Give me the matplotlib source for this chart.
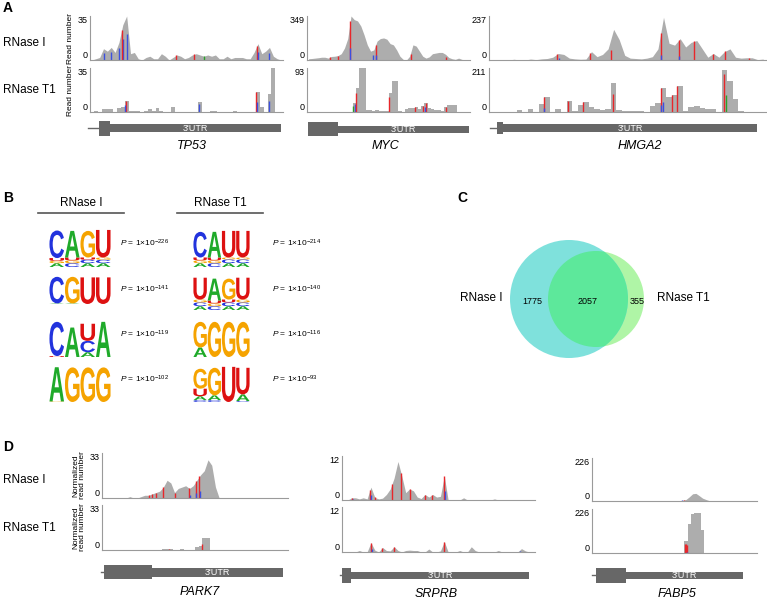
import numpy as np
import matplotlib
matplotlib.use('Agg')
import matplotlib.pyplot as plt
from matplotlib.patches import Circle, Rectangle, PathPatch
from matplotlib.textpath import TextPath
from matplotlib.font_manager import FontProperties
from matplotlib.transforms import Affine2D

plt.rcParams['font.family'] = 'Liberation Sans'
plt.rcParams['mathtext.fontset'] = 'custom'
plt.rcParams['mathtext.rm'] = 'Liberation Sans'
plt.rcParams['mathtext.it'] = 'Liberation Sans:italic'

W, H = 767, 603
GRAY = '#adadad'
SPINE = '#9a9a9a'
GENE = '#676767'
RED, BLUE, GREEN = '#e8262a', '#3b4fe0', '#2ca02c'

# ---------------------------------------------------------------
# coverage values (read number per bin)
# ---------------------------------------------------------------
tp53_i = [0, 1, 2, 9, 7, 10, 6, 14, 28, 35, 5, 6, 1, 0, 2, 3, 1, 1, 5, 3,
          0, 2, 4, 3, 1, 2, 4, 5, 4, 3, 4, 3, 4, 1, 1, 3, 1, 2, 2, 2,
          1, 1, 6, 13, 5, 7, 10, 3, 1, 0]
tp53_t1 = [0, 1, 0, 2, 2, 2, 0, 3, 4, 9, 1, 1, 1, 0, 1, 2, 1, 3, 1, 0,
           0, 4, 0, 0, 0, 0, 0, 0, 8, 0, 0, 1, 1, 0, 0, 0, 0, 1, 0, 0,
           0, 0, 0, 16, 4, 0, 14, 35, 0, 0]
myc_i = [10, 12, 15, 18, 22, 22, 15, 28, 30, 35, 50, 95, 170, 349, 320, 310, 270, 200, 120, 70,
         80, 150, 170, 175, 165, 130, 120, 80, 30, 5, 0, 30, 120, 110, 70, 30, 15, 25, 50, 55,
         60, 60, 45, 20, 10, 5, 15, 5, 0, 0]
myc_t1 = [0, 0, 0, 0, 0, 0, 0, 0, 0, 0, 0, 0, 0, 0, 20, 50, 93, 92, 5, 5,
          3, 4, 3, 2, 2, 40, 65, 65, 2, 0, 6, 8, 9, 10, 7, 12, 20, 8, 6, 4,
          5, 2, 10, 15, 15, 14, 0, 0, 0, 0]
hmga2_i = [0, 0, 0, 0, 4, 0, 0, 5, 2, 6, 8, 15, 35, 30, 10, 6, 4, 5, 45, 18,
           30, 60, 165, 110, 25, 10, 8, 6, 10, 18, 60, 230, 90, 80, 115, 70, 95, 105, 60, 15,
           35, 15, 45, 60, 15, 10, 12, 12, 2, 5]
hmga2_t1 = [0, 0, 0, 0, 0, 8, 0, 15, 2, 40, 70, 0, 12, 2, 55, 5, 35, 50, 25, 12,
            10, 15, 140, 10, 3, 4, 3, 4, 2, 30, 45, 115, 70, 80, 125, 5, 25, 30, 20, 15,
            12, 2, 200, 150, 60, 5, 0, 0, 0, 0]
park7_i = [0, 0, 0, 0, 0, 0, 0, 1, 0, 0, 1, 2, 2, 3, 4, 5, 8, 13, 11, 4,
           7, 8, 9, 7, 9, 13, 17, 20, 28, 24, 8, 0, 0, 0, 0, 0, 0, 0, 0, 0,
           0, 0, 0, 0, 0, 0, 0, 0, 0, 0]
park7_t1 = [0, 0, 0, 0, 0, 0, 0, 0, 0, 0, 0, 0, 0, 0, 0, 0, 1, 1, 1, 0,
            0, 1, 0, 0, 0, 2, 3, 9, 9, 0, 0, 0, 0, 0, 0, 0, 0, 0, 0, 0,
            0, 0, 0, 0, 0, 0, 0, 0, 0, 0]
srprb_i = [0, 0, 0.6, 0.6, 0.3, 0.6, 0.3, 3.5, 0.7, 0.3, 0.5, 1.5, 3.0, 6, 10.5, 6.5, 2, 3, 2.5, 0.8,
           0.4, 1.5, 0.8, 1.5, 0.8, 1, 6.5, 0, 0, 0, 0, 0.6, 0, 0, 0, 0, 0, 0, 0, 0.3,
           0, 0, 0, 0, 0, 0, 0, 0, 0, 0]
srprb_t1 = [0, 0, 0, 0, 0.4, 0, 0, 2.5, 0.5, 0, 1.2, 0.4, 0.3, 1.4, 0.4, 0, 0.4, 0.5, 0.4, 0.4,
            0, 0, 0.8, 0, 0, 0.3, 2.8, 0, 0, 0, 0.4, 0, 0, 1.4, 0.4, 0, 0, 0, 0, 0,
            0.4, 0, 0, 0, 0, 0, 0.9, 0.3, 0, 0]
fabp5_i = [0] * 27 + [4, 8, 22, 38, 40, 28, 15, 8, 2] + [0] * 14
fabp5_t1 = [0] * 27 + [2, 60, 150, 200, 205, 203, 120] + [0] * 16

# mismatch bars: (bin position, fraction of coverage, colour)
tp53_i_mm = [(3.5, .6, BLUE), (5.5, .6, BLUE), (7.5, .7, BLUE), (8.5, .6, BLUE), (9.5, .6, BLUE),
             (8.2, 1., RED), (22.3, 1., RED), (27, 1., RED), (29.5, 1., GREEN), (43.2, 1., RED),
             (43.4, .5, BLUE), (46.3, .6, BLUE)]
tp53_t1_mm = [(9.3, 1., RED), (9.1, .6, BLUE), (28.2, .8, BLUE), (43.0, 1., RED),
              (43.2, .5, BLUE), (46.5, .6, BLUE)]
myc_i_mm = [(13.3, 1., RED), (13.3, .3, BLUE), (20.2, .5, BLUE), (21.3, .9, RED),
            (21.3, .3, BLUE), (32.0, .6, RED), (42.5, .5, RED), (7.0, 1., RED), (9.4, 1., RED)]
myc_t1_mm = [(14.2, .6, GREEN), (14.6, .8, BLUE), (15.0, .8, RED), (25.2, .8, RED),
             (35.5, 1., RED), (36.5, 1., RED), (36.3, .5, BLUE), (42.5, 1., RED), (33, 1., RED)]
hmga2_i_mm = [(12.3, 1., RED), (12.6, .3, BLUE), (18.3, 1., RED), (22.0, .5, RED),
              (31.0, 1., RED), (31.0, .2, BLUE), (34.3, 1., RED), (34.3, .2, BLUE),
              (37, 1., RED), (40.5, 1., RED), (42.6, 1., RED), (47, 1., RED)]
hmga2_t1_mm = [(10.0, 1., RED), (10.0, .3, BLUE), (14.3, 1., RED), (17, 1., RED),
               (22.3, .6, RED), (31.0, 1., RED), (31.0, .3, BLUE), (33, 1., RED),
               (34.0, 1., RED), (31.4, .4, BLUE), (42.5, .9, RED), (42.7, .4, GREEN)]
park7_i_mm = [(12.5, 1., RED), (13.5, 1., RED), (14.5, 1., RED), (16.5, 1., RED),
              (19.5, 1., RED), (23.5, 1., RED), (25.3, 1., RED), (26.2, 1., RED),
              (23.6, .3, BLUE), (25.3, .3, BLUE), (26.4, .3, BLUE)]
park7_t1_mm = [(18, 1., RED), (27, .5, RED)]
srprb_i_mm = [(2.5, 1., RED), (2.8, .5, BLUE), (7.3, 1., RED), (7.5, .4, BLUE), (8.5, 1., RED),
              (13, 1., RED), (15.3, 1., RED), (17.5, 1., RED), (21.5, 1., RED),
              (23.3, 1., RED), (26.5, 1., RED), (26.6, .4, BLUE)]
srprb_t1_mm = [(7.5, 1., RED), (7.7, .4, BLUE), (10.3, 1., RED), (13.5, 1., RED),
               (26.4, 1., RED), (46, .6, BLUE)]
fabp5_i_mm = [(27.3, 1., BLUE), (28, 1., RED)]
fabp5_t1_mm = [(28.3, .8, RED), (28.6, .8, RED), (28.9, .7, RED), (28.8, .08, BLUE)]

# sequence logos: stacks bottom->top, heights in bits
logos_i = [
    [[('A', .2), ('G', .12), ('U', .15), ('C', 1.45)], [('C', .2), ('G', .15), ('U', .15), ('A', 1.4)],
     [('A', .2), ('C', .18), ('U', .12), ('G', 1.4)], [('A', .2), ('C', .18), ('G', .12), ('U', 1.45)]],
    [[('A', .03), ('C', 1.4)], [('A', .03), ('G', 1.4)], [('U', 1.4)], [('U', 1.4)]],
    [[('U', .05), ('C', 1.8)], [('A', 1.55)], [('A', .25), ('C', .6), ('U', .9)], [('A', 1.85)]],
    [[('G', .03), ('A', 1.8)], [('G', 1.82)], [('G', 1.82)], [('G', 1.82)]],
]
logos_t1 = [
    [[('A', .2), ('G', .15), ('U', .15), ('C', 1.35)], [('C', .2), ('G', .15), ('U', .15), ('A', 1.35)],
     [('A', .2), ('C', .2), ('G', .1), ('U', 1.4)], [('A', .2), ('C', .2), ('G', .1), ('U', 1.4)]],
    [[('A', .2), ('C', .2), ('G', .15), ('U', 1.15)], [('C', .2), ('G', .15), ('U', .15), ('A', 1.15)],
     [('A', .2), ('C', .2), ('U', .15), ('G', 1.1)], [('A', .2), ('C', .2), ('G', .15), ('U', 1.15)]],
    [[('A', .5), ('G', 1.35)], [('G', 1.85)], [('G', 1.85)], [('G', 1.85)]],
    [[('C', .1), ('A', .2), ('U', .4), ('G', 1.05)], [('C', .1), ('A', .25), ('G', 1.45)],
     [('U', 1.85)], [('C', .05), ('A', .35), ('U', 1.4)]],
]
pexp_i = [226, 141, 119, 102]
pexp_t1 = [214, 140, 116, 93]

venn_only_i, venn_both, venn_only_t1 = 1775, 2057, 355

LETTER_COL = {'A': '#1faa2a', 'C': '#2233dd', 'G': '#f5a300', 'U': '#dd1111'}

fig = plt.figure(figsize=(W / 100, H / 100), dpi=100)
bg = fig.add_axes([0, 0, 1, 1])
bg.set_xlim(0, W)
bg.set_ylim(H, 0)
bg.axis('off')


def px(x0, y0, x1, y1):
    return [x0 / W, 1 - y1 / H, (x1 - x0) / W, (y1 - y0) / H]


def track(box, cov, top, marks, ylab=None, step=False):
    ax = fig.add_axes(px(*box))
    cov = np.asarray(cov, dtype=float)
    x = np.arange(len(cov)) + 0.5
    if step:
        ax.fill_between(x, cov, step='mid', color=GRAY, lw=0)
    else:
        ax.fill_between(x, cov, color=GRAY, lw=0)
    for pos, frac, c in marks:
        h = (cov[min(int(pos), len(cov) - 1)] if step else np.interp(pos, x, cov)) * frac
        ax.vlines(pos, 0, h, color=c, lw=1.0)
    ax.set_xlim(0, len(cov))
    ax.set_ylim(0, top)
    for s in ['top', 'right']:
        ax.spines[s].set_visible(False)
    for s in ['left', 'bottom']:
        ax.spines[s].set_color(SPINE)
        ax.spines[s].set_linewidth(0.8)
    ax.set_xticks([])
    ax.set_yticks([0, top])
    ax.set_yticklabels(['0', str(top)], fontsize=6.5)
    ax.tick_params(length=0, pad=2)
    lbls = ax.get_yticklabels()
    lbls[0].set_va('bottom')
    lbls[1].set_va('top')
    if ylab:
        ax.set_ylabel(ylab, fontsize=6, labelpad=2, linespacing=0.95)
    ax.patch.set_alpha(0)
    return ax


def gene(intron, cds, utr, ycen, hc, hu, name, namex, namey):
    if intron:
        bg.plot(intron, [ycen, ycen], color=GENE, lw=1)
    bg.add_patch(Rectangle((cds[0], ycen - hc / 2), cds[1] - cds[0], hc, color=GENE, lw=0))
    bg.add_patch(Rectangle((utr[0], ycen - hu / 2), utr[1] - utr[0], hu, color=GENE, lw=0))
    bg.text((utr[0] + utr[1]) / 2, ycen + 0.5, "3'UTR", color='white', fontsize=6.5,
            ha='center', va='center')
    bg.text(namex, namey, name, fontsize=9, style='italic', ha='center', va='center')


# ---------------- Panel A ----------------
bg.text(3, 8, 'A', fontsize=10, weight='bold', va='center')
bg.text(3, 43, 'RNase I', fontsize=8.5, va='center')
bg.text(3, 90, 'RNase T1', fontsize=8.5, va='center')

track((90, 16, 283, 60), tp53_i, 35, tp53_i_mm, 'Read number')
track((90, 68, 283, 112), tp53_t1, 35, tp53_t1_mm, 'Read number', step=True)
track((307, 16, 470, 60), myc_i, 349, myc_i_mm)
track((307, 68, 470, 112), myc_t1, 93, myc_t1_mm, step=True)
track((489, 16, 766, 60), hmga2_i, 237, hmga2_i_mm)
track((489, 68, 766, 112), hmga2_t1, 211, hmga2_t1_mm, step=True)

gene((88, 99), (99, 110), (110, 281), 128, 15, 8, 'TP53', 192, 146)
gene(None, (308, 338), (338, 469), 129, 14, 7, 'MYC', 385, 146)
gene((490, 497), (497, 503), (503, 757), 128, 12, 8, 'HMGA2', 640, 146)

# ---------------- Panel B ----------------
fp = FontProperties(family='Liberation Sans', weight='bold')


def letter(ch, x, ybot, w, h):
    tp = TextPath((0, 0), ch, size=1, prop=fp)
    bb = tp.get_extents()
    tr = Affine2D().translate(-bb.x0, -bb.y0).scale(w / bb.width, -h / bb.height).translate(x, ybot)
    bg.add_patch(PathPatch(tr.transform_path(tp), fc=LETTER_COL[ch], lw=0))


def logo(stacks, x0, width, ybot, scale=19):
    w = width / len(stacks)
    for i, st in enumerate(stacks):
        y = ybot
        for ch, bits in st:
            hh = bits * scale
            letter(ch, x0 + i * w + w * 0.03, y, w * 0.94, hh)
            y -= hh


bg.text(3, 198, 'B', fontsize=10, weight='bold', va='center')
bg.text(81, 203, 'RNase I', fontsize=8.5, ha='center', va='center')
bg.text(220, 203, 'RNase T1', fontsize=8.5, ha='center', va='center')
bg.plot([38, 124], [213, 213], color='#555555', lw=1.2)
bg.plot([177, 263], [213, 213], color='#555555', lw=1.2)

row_bottom = [267, 304, 357, 402]
row_text = [243, 289, 334, 379]
for k in range(4):
    logo(logos_i[k], 49, 62, row_bottom[k])
    logo(logos_t1[k], 193, 57, row_bottom[k] if k != 1 else 310)
    bg.text(120, row_text[k], r'$P$ = 1×10$^{-%d}$' % pexp_i[k], fontsize=6, va='center')
    bg.text(272, row_text[k], r'$P$ = 1×10$^{-%d}$' % pexp_t1[k], fontsize=6, va='center')

# ---------------- Panel C ----------------
bg.text(457, 198, 'C', fontsize=10, weight='bold', va='center')
c_t1 = Circle((596, 299), 48, fc='#aff5a6', lw=0, zorder=1)
c_i = Circle((569, 299), 59, fc='#7fe1dc', lw=0, zorder=2)
c_ov = Circle((596, 299), 48, fc='#5de89b', lw=0, zorder=3)
bg.add_patch(c_t1)
bg.add_patch(c_i)
bg.add_patch(c_ov)
c_ov.set_clip_path(c_i)
bg.text(502, 298, 'RNase I', fontsize=8.5, ha='right', va='center')
bg.text(657, 298, 'RNase T1', fontsize=8.5, ha='left', va='center')
bg.text(532, 301, str(venn_only_i), fontsize=6.5, ha='center', va='center', zorder=5)
bg.text(588, 301, str(venn_both), fontsize=6.5, ha='center', va='center', zorder=5)
bg.text(637, 301, str(venn_only_t1), fontsize=6.5, ha='center', va='center', zorder=5)

# ---------------- Panel D ----------------
bg.text(3, 447, 'D', fontsize=10, weight='bold', va='center')
bg.text(3, 480, 'RNase I', fontsize=8.5, va='center')
bg.text(3, 528, 'RNase T1', fontsize=8.5, va='center')

track((102, 453, 288, 498), park7_i, 33, park7_i_mm, 'Normalized\nread number')
track((102, 505, 288, 550), park7_t1, 33, park7_t1_mm, 'Normalized\nread number', step=True)
track((342, 456, 535, 500), srprb_i, 12, srprb_i_mm)
track((342, 507, 535, 552), srprb_t1, 12, srprb_t1_mm)
track((592, 458, 757, 501), fabp5_i, 226, fabp5_i_mm)
track((592, 509, 757, 553), fabp5_t1, 226, fabp5_t1_mm, step=True)

gene((101, 104), (104, 152), (152, 283), 572, 14, 9, 'PARK7', 200, 592)
gene((340, 342), (342, 351), (351, 529), 575, 15, 7, 'SRPRB', 436, 594)
gene((592, 596), (596, 626), (626, 743), 575, 15, 7, 'FABP5', 677, 594)

fig.savefig('out.png', dpi=100)
